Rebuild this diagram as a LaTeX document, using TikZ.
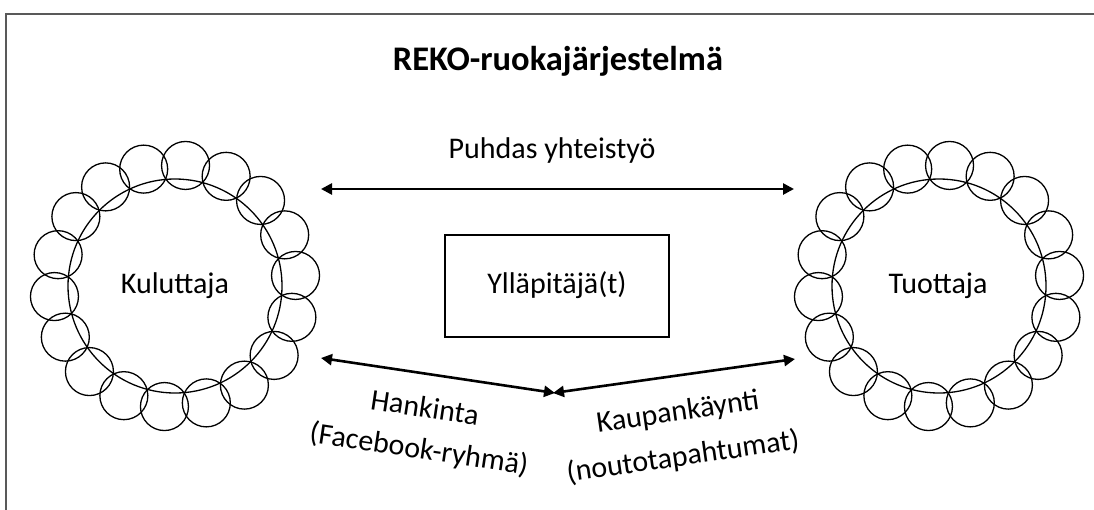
\documentclass[tikz,border=0pt]{standalone}
\usepackage{fontspec}
\setmainfont{Carlito}
\usetikzlibrary{arrows.meta}
\tikzset{
  lbl/.style={font=\fontsize{30}{43}\selectfont, inner sep=0pt, align=center},
  ring/.style={draw, circle, line width=1.3pt, minimum size=214pt, inner sep=0pt},
  bead/.style={line width=1.3pt},
  conn/.style={line width=2.6pt, {Triangle[length=11pt,width=11pt]}-{Triangle[length=11pt,width=11pt]}},
  frame/.style={draw=black!65, line width=1.5pt},
  boxstyle/.style={draw, line width=1.2pt, minimum width=224pt, minimum height=102pt, inner sep=0pt}
}
\begin{document}
\begin{tikzpicture}[x=1pt,y=-1pt]
\useasboundingbox (0,0) rectangle (1094,509);
\draw[frame] (6,515) -- (6,14) -- (1100,14);
\node[lbl, font=\fontsize{34.5}{40}\selectfont\bfseries, anchor=base] (title) at (558,70) {REKO-ruokajärjestelmä};
% rings
\node[ring] (kul) at (175,286) {};
\node[ring] (tuo) at (939,286) {};
\foreach \k in {0,...,17}{
  \draw[bead] (kul.center) ++(5+20*\k:121pt) circle (24pt);
  \draw[bead] (tuo.center) ++(5+20*\k:121pt) circle (24pt);
}
\node[lbl, anchor=base] (kultxt) at (175,293) {Kuluttaja};
\node[lbl, anchor=base] (tuotxt) at (938,293) {Tuottaja};
% admin box
\node[boxstyle] (yp) at (557,286) {};
\node[lbl, anchor=base] (yptxt) at (557,293) {Ylläpitäjä(t)};
% connectors
\coordinate (tl) at (321,189);
\coordinate (tr) at (794,189);
\coordinate (bl) at (321,358);
\coordinate (br) at (795,359);
\coordinate (midl) at (555,393);
\coordinate (midr) at (553,393);
\node[lbl, anchor=base] (puh) at (552,158) {Puhdas yhteistyö};
\draw[conn] (tl) -- (tr);
\draw[conn] (bl) -- (midl);
\draw[conn] (midr) -- (br);
\node[lbl, rotate=-8.6] (han1) at (425,407) {Hankinta};
\node[lbl, rotate=-8.6] (han2) at (419,450) {(Facebook-ryhmä)};
\node[lbl, rotate=8.2] (kau1) at (678,413) {Kaupankäynti};
\node[lbl, rotate=8.2] (kau2) at (683,457) {(noutotapahtumat)};
\end{tikzpicture}
\end{document}
